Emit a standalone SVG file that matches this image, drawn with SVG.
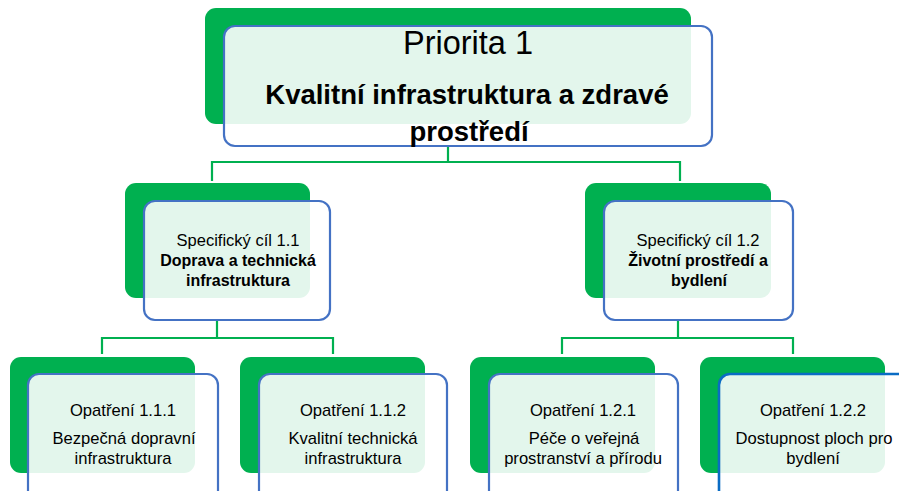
<svg xmlns="http://www.w3.org/2000/svg" width="899" height="491" viewBox="0 0 899 491">
<defs>
<style>
.shadow{fill:#00b050}
.card{fill:#ffffff;fill-opacity:0.89;stroke:#4472c4;stroke-width:2.2}
.card2{fill:#ffffff;fill-opacity:0.89;stroke:#0a6cc4;stroke-width:2.6}
.conn{fill:none;stroke:#00b050;stroke-width:2.2}
text{font-family:"Liberation Sans",Arial,sans-serif;fill:#000;text-anchor:middle}
.t1{font-size:32.5px}
.t1b{font-size:27.5px;font-weight:bold}
.t2{font-size:16.5px}
.t2b{font-size:16px;font-weight:bold}
.t3{font-size:16.6px}
</style>
</defs>
<rect width="899" height="491" fill="#ffffff"/>
<g id="connectors">
<path class="conn" d="M448 146 V162 M212 181 V162 H680 V181"/>
<path class="conn" d="M217 320 V338 M102 354 V338 H333 V354"/>
<path class="conn" d="M678 320 V338 M562 354 V338 H793 V354"/>
</g>
<g id="priorita">
<rect class="shadow" x="205" y="8" width="486" height="116" rx="11"/>
<rect class="card" x="224" y="26" width="488" height="120" rx="11"/>
<text class="t1" x="468" y="54">Priorita 1</text>
<text class="t1b" x="467" y="104">Kvalitní infrastruktura a zdravé</text>
<text class="t1b" x="469" y="141">prostředí</text>
</g>
<g id="cil11">
<rect class="shadow" x="125" y="183" width="185" height="115" rx="11"/>
<rect class="card" x="144" y="201" width="186" height="119" rx="11"/>
<text class="t2" x="238" y="246">Specifický cíl 1.1</text>
<text class="t2b" x="238" y="266">Doprava a technická</text>
<text class="t2b" x="238" y="286">infrastruktura</text>
</g>
<g id="cil12">
<rect class="shadow" x="585" y="183" width="186" height="115" rx="11"/>
<rect class="card" x="604" y="201" width="189" height="119" rx="11"/>
<text class="t2" x="698" y="246">Specifický cíl 1.2</text>
<text class="t2b" x="698" y="266">Životní prostředí a</text>
<text class="t2b" x="699" y="286">bydlení</text>
</g>
<g id="opatreni111">
<rect class="shadow" x="10" y="357" width="185" height="116" rx="11"/>
<rect class="card" x="28" y="374" width="190" height="130" rx="11"/>
<text class="t3" x="123" y="416">Opatření 1.1.1</text>
<text class="t3" x="124" y="444">Bezpečná dopravní</text>
<text class="t3" x="123" y="464">infrastruktura</text>
</g>
<g id="opatreni112">
<rect class="shadow" x="240" y="357" width="185" height="116" rx="11"/>
<rect class="card" x="259" y="374" width="188" height="130" rx="11"/>
<text class="t3" x="353" y="416">Opatření 1.1.2</text>
<text class="t3" x="353" y="444">Kvalitní technická</text>
<text class="t3" x="353" y="464">infrastruktura</text>
</g>
<g id="opatreni121">
<rect class="shadow" x="470" y="357" width="185" height="116" rx="11"/>
<rect class="card" x="489" y="374" width="189" height="130" rx="11"/>
<text class="t3" x="583" y="416">Opatření 1.2.1</text>
<text class="t3" x="584" y="444">Péče o veřejná</text>
<text class="t3" x="583" y="464">prostranství a přírodu</text>
</g>
<g id="opatreni122">
<rect class="shadow" x="700" y="357" width="185" height="116" rx="11"/>
<rect class="card2" x="719" y="374" width="200" height="130" rx="11"/>
<text class="t3" x="813" y="416">Opatření 1.2.2</text>
<text class="t3" x="814" y="444">Dostupnost ploch pro</text>
<text class="t3" x="813" y="464">bydlení</text>
</g>
</svg>
